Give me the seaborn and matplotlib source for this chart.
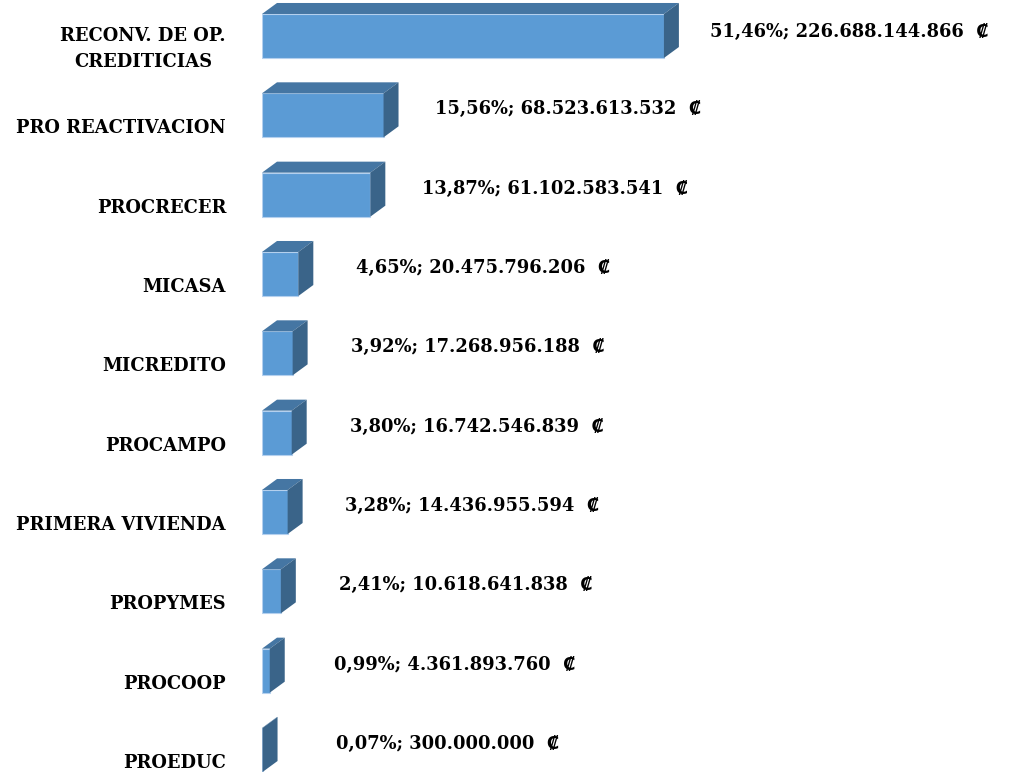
import matplotlib
matplotlib.use('Agg')
import matplotlib.pyplot as plt
import pandas as pd
import seaborn as sns
from matplotlib.patches import Polygon

programas = ['RECONV. DE OP.\nCREDITICIAS', 'PRO REACTIVACION', 'PROCRECER', 'MICASA',
             'MICREDITO', 'PROCAMPO', 'PRIMERA VIVIENDA', 'PROPYMES', 'PROCOOP', 'PROEDUC']
porcentajes = [51.46, 15.56, 13.87, 4.65, 3.92, 3.80, 3.28, 2.41, 0.99, 0.07]
montos = ['226.688.144.866', '68.523.613.532', '61.102.583.541', '20.475.796.206',
          '17.268.956.188', '16.742.546.839', '14.436.955.594', '10.618.641.838',
          '4.361.893.760', '300.000.000']

sns.set_theme(style='white')
plt.rcParams['font.family'] = ['DejaVu Serif', 'DejaVu Sans']
plt.rcParams['font.weight'] = 'bold'

W, H = 1017, 772
px_x = 7.81     # pixels per percent
row = 79.33     # pixels per category
x0 = 262

fig = plt.figure(figsize=(W / 100, H / 100), dpi=100)
ax = fig.add_axes([x0 / W, 0, 95 * px_x / W, 1])

df = pd.DataFrame({'programa': programas, 'pct': porcentajes})
sns.barplot(data=df, y='programa', x='pct', orient='h', color='#5B9BD5', saturation=1,
            width=0.555, edgecolor='#B4D0EE', linewidth=0.8, ax=ax)
ax.set_xlim(0, 95)
ax.set_ylim(9 + 22 / row, -36 / row)
ax.axis('off')

# 3D faces (top + side)
dx = 15 / px_x
dy = 11 / row
for p in ax.patches[:len(programas)]:
    w = p.get_width()
    yt = p.get_y()
    yb = yt + p.get_height()
    top = Polygon([(0, yt), (w, yt), (w + dx, yt - dy), (dx, yt - dy)],
                  closed=True, facecolor='#4576A3', edgecolor='none', clip_on=False)
    side = Polygon([(w, yt), (w + dx, yt - dy), (w + dx, yb - dy), (w, yb)],
                   closed=True, facecolor='#3A6489', edgecolor='none', clip_on=False)
    ax.add_patch(top)
    ax.add_patch(side)

fs = 12.9
for i, (nombre, pct, monto) in enumerate(zip(programas, porcentajes, montos)):
    ax.text(-36 / px_x, i + 13 / row, nombre, ha='right', va='center',
            multialignment='center', linespacing=1.55,
            fontsize=fs, fontweight='bold', color='black')
    txt = f'{pct:.2f}'.replace('.', ',') + f'%; {monto}  \u20a1'
    dy_lbl = -4 if i == 0 else -6
    ax.text(pct + 185 / px_x, i + dy_lbl / row, txt, ha='center', va='center',
            fontsize=fs, fontweight='bold', color='black', clip_on=False)

fig.savefig('out.png', dpi=100)
